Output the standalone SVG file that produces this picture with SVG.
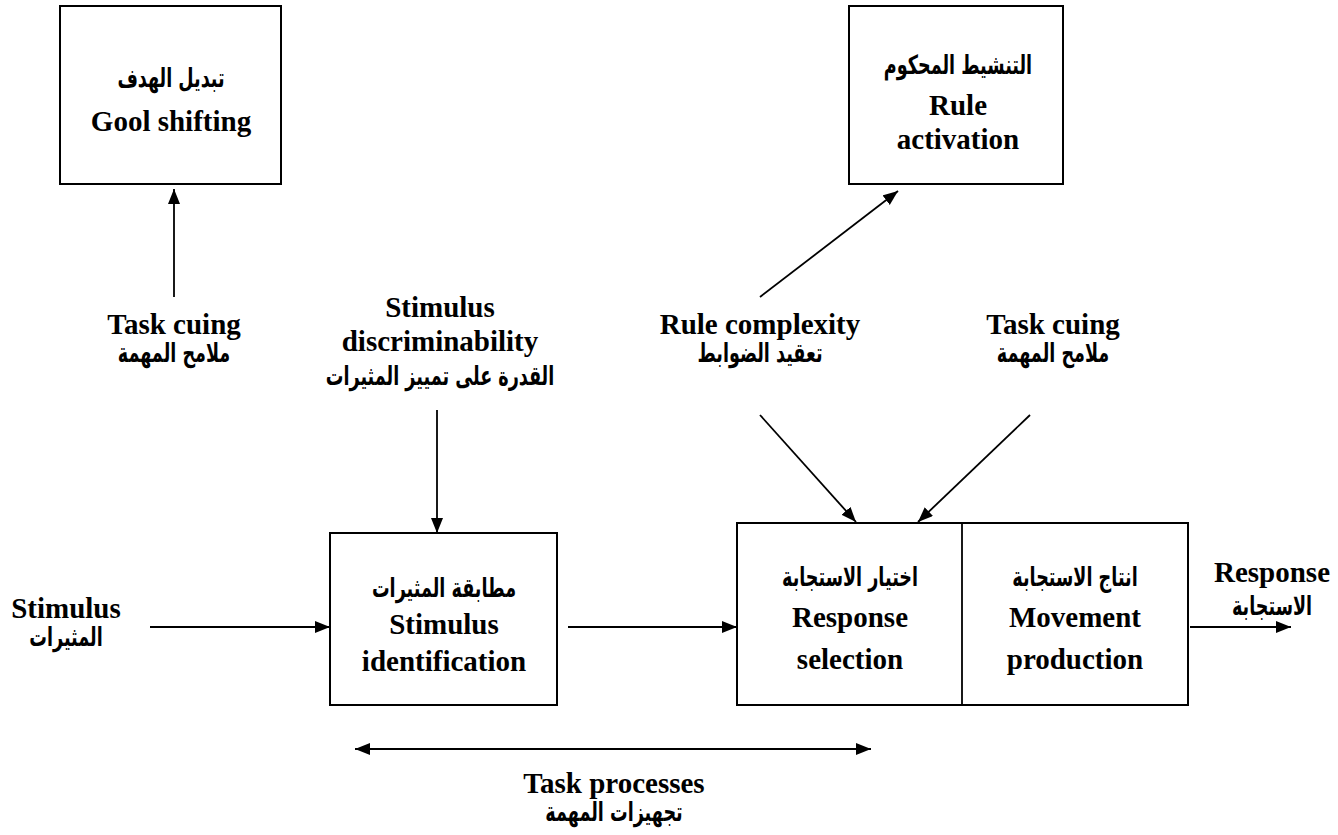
<svg xmlns="http://www.w3.org/2000/svg" width="1338" height="835" viewBox="0 0 1338 835">
<style>
.box{fill:#fff;stroke:#000;stroke-width:2}
.ln{fill:none;stroke:#000;stroke-width:1.8}
.en{font-family:"Liberation Serif","Times New Roman",serif;font-weight:bold;font-size:29px;text-anchor:middle;fill:#000}
.ar{font-family:"DejaVu Sans",sans-serif;font-weight:bold;font-size:22px;text-anchor:middle;fill:#000}
</style>
<defs>
<marker id="ah" markerUnits="userSpaceOnUse" markerWidth="16" markerHeight="14" refX="15" refY="6" orient="auto-start-reverse">
<path d="M0,0 L15,6 L0,12 Z" fill="#000"/>
</marker>
</defs>
<rect width="1338" height="835" fill="#fff"/>
<g id="connectors">
<line class="ln" x1="174" y1="297" x2="174" y2="189" marker-end="url(#ah)"/>
<line class="ln" x1="760" y1="297" x2="898" y2="191" marker-end="url(#ah)"/>
<line class="ln" x1="437" y1="410" x2="437" y2="533" marker-end="url(#ah)"/>
<line class="ln" x1="760" y1="415" x2="856" y2="522" marker-end="url(#ah)"/>
<line class="ln" x1="1030" y1="415" x2="918" y2="522" marker-end="url(#ah)"/>
<line class="ln" x1="150" y1="627" x2="330" y2="627" marker-end="url(#ah)"/>
<line class="ln" x1="568" y1="627" x2="737" y2="627" marker-end="url(#ah)"/>
<line class="ln" x1="1190" y1="627" x2="1291" y2="627" marker-end="url(#ah)"/>
<line class="ln" x1="355" y1="749" x2="871" y2="749" marker-start="url(#ah)" marker-end="url(#ah)"/>
</g>
<g id="goal-shifting">
<rect class="box" x="60" y="6" width="221" height="178"/>
<text class="ar" transform="translate(171 87) scale(0.8 1.2)">تبديل الهدف</text>
<text class="en" x="171" y="131">Gool shifting</text>
</g>
<g id="rule-activation">
<rect class="box" x="849" y="6" width="214" height="178"/>
<text class="ar" transform="translate(958 74) scale(0.8 1.2)">التنشيط المحكوم</text>
<text class="en" x="958" y="115">Rule</text>
<text class="en" x="958" y="149">activation</text>
</g>
<g id="task-cuing-left">
<text class="en" x="174" y="334">Task cuing</text>
<text class="ar" transform="translate(174 362) scale(0.8 1.2)">ملامح المهمة</text>
</g>
<g id="stimulus-discriminability">
<text class="en" x="440" y="317">Stimulus</text>
<text class="en" x="440" y="351">discriminability</text>
<text class="ar" transform="translate(440 385) scale(0.8 1.2)">القدرة على تمييز المثيرات</text>
</g>
<g id="rule-complexity">
<text class="en" x="760" y="334">Rule complexity</text>
<text class="ar" transform="translate(760 362) scale(0.8 1.2)">تعقيد الضوابط</text>
</g>
<g id="task-cuing-right">
<text class="en" x="1053" y="334">Task cuing</text>
<text class="ar" transform="translate(1053 362) scale(0.8 1.2)">ملامح المهمة</text>
</g>
<g id="stimulus">
<text class="en" x="66" y="618">Stimulus</text>
<text class="ar" transform="translate(66 646) scale(0.8 1.2)">المثيرات</text>
</g>
<g id="stimulus-identification">
<rect class="box" x="330" y="533" width="227" height="172"/>
<text class="ar" transform="translate(444 597) scale(0.8 1.2)">مطابقة المثيرات</text>
<text class="en" x="444" y="634">Stimulus</text>
<text class="en" x="444" y="671">identification</text>
</g>
<g id="response-block">
<rect class="box" x="737" y="523" width="451" height="182"/>
<line class="ln" x1="962" y1="523" x2="962" y2="705"/>
</g>
<g id="response-selection">
<text class="ar" transform="translate(850 586) scale(0.8 1.2)">اختيار الاستجابة</text>
<text class="en" x="850" y="627">Response</text>
<text class="en" x="850" y="669">selection</text>
</g>
<g id="movement-production">
<text class="ar" transform="translate(1075 586) scale(0.8 1.2)">انتاج الاستجابة</text>
<text class="en" x="1075" y="627">Movement</text>
<text class="en" x="1075" y="669">production</text>
</g>
<g id="response">
<text class="en" x="1272" y="582">Response</text>
<text class="ar" transform="translate(1272 615) scale(0.8 1.2)">الاستجابة</text>
</g>
<g id="task-processes">
<text class="en" x="614" y="793">Task processes</text>
<text class="ar" transform="translate(614 821) scale(0.8 1.2)">تجهيزات المهمة</text>
</g>
</svg>
